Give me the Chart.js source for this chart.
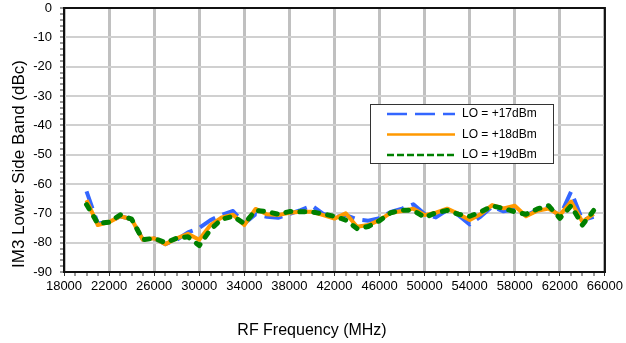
<!DOCTYPE html>
<html>
<head>
<meta charset="utf-8">
<script src="https://cdn.jsdelivr.net/npm/chart.js@4.4.1/dist/chart.umd.min.js"></script>
<style>
  html, body { margin: 0; padding: 0; background: #fff; }
  #wrap { width: 626px; height: 343px; }
</style>
</head>
<body>
<div id="wrap"><canvas id="im3Chart" width="626" height="343"></canvas></div>
<script>
// RF frequency points (MHz)
const freqs = [
    20000, 21000, 22000, 23000, 24000, 25000, 26000, 27000, 28000, 29000,
    30000, 31000, 32000, 33000, 34000, 35000, 36000, 37000, 38000, 39000,
    40000, 41000, 42000, 43000, 44000, 45000, 46000, 47000, 48000, 49000,
    50000, 51000, 52000, 53000, 54000, 55000, 56000, 57000, 58000, 59000,
    60000, 61000, 62000, 63000, 64000, 65000,
];

// IM3 lower side band (dBc) for each LO drive
const lo17 = [
    -62.5, -73.5, -73, -71, -72, -79, -78.5, -80.5, -79, -76.5,
    -75, -72.3, -70.5, -69.2, -73.5, -70.3, -71.2, -71.5, -70.2, -68.9,
    -67.4, -70.2, -71.3, -70.6, -72, -72.5, -71.7, -69.5, -68.4, -66.9,
    -70.2, -71.4, -68.9, -70.6, -73.8, -71, -67.7, -69.3, -68.6, -70.7,
    -68.9, -67.9, -71, -62.6, -72.3, -71.2,
];
const lo18 = [
    -65.5, -74, -73, -71, -72, -79, -78.5, -80.5, -78.5, -77,
    -79, -74, -71.4, -70.5, -74, -68.5, -70.3, -70.6, -69.8, -69.5,
    -69.5, -70.6, -71.8, -70, -74.6, -74, -72.3, -69.8, -69.2, -68.4,
    -70.6, -69.8, -68.4, -70.2, -72.3, -70.2, -67.2, -68.3, -67.4, -71,
    -69.1, -68.4, -70.6, -66, -72.9, -70.2,
];
const lo19 = [
    -67, -73.5, -73, -70.5, -72, -79, -78.5, -80, -78.5, -78,
    -81, -75.5, -72, -71, -73.5, -69, -69.4, -70.3, -69.4, -69.5,
    -69.5, -70.2, -71, -72.3, -75.2, -74.5, -72.5, -69.8, -68.9, -69,
    -71.4, -69.8, -69, -70.3, -71, -69.5, -67.5, -68.3, -69.5, -70.3,
    -68.5, -67.4, -71.7, -67.4, -74, -69,
];

const seriesNames = ["LO = +17dBm", "LO = +18dBm", "LO = +19dBm"];
const xTitle = "RF Frequency (MHz)";
const yTitle = "IM3 Lower Side Band (dBc)";

const FONT = '"Liberation Sans", Arial, sans-serif';

const toPoints = (vals) => vals.map((v, i) => ({ x: freqs[i], y: v }));

// legend samples are thinner than the plotted lines
const legendStyles = [
    { color: "#3366FF", dash: [20, 8], width: 2.5 },
    { color: "#FF9900", dash: [], width: 2.5 },
    { color: "#008000", dash: [7, 3], width: 2.5 },
];

const decor = {
    id: "decor",
    afterDraw(chart) {
        const { ctx, chartArea: a } = chart;
        ctx.save();

        // plot frame
        ctx.strokeStyle = "#111";
        ctx.lineWidth = 2;
        ctx.strokeRect(a.left, a.top, a.right - a.left, a.bottom - a.top);

        // axis titles
        ctx.fillStyle = "#000";
        ctx.textAlign = "center";
        ctx.textBaseline = "middle";
        ctx.font = "16px " + FONT;
        ctx.fillText(xTitle, 312, 331);
        ctx.save();
        ctx.font = "17px " + FONT;
        ctx.translate(19, 164);
        ctx.rotate(-Math.PI / 2);
        ctx.fillText(yTitle, 0, 0);
        ctx.restore();

        // legend box
        const bx = 370, by = 104, bw = 183, bh = 59;
        ctx.fillStyle = "#fff";
        ctx.fillRect(bx, by, bw, bh);
        ctx.strokeStyle = "#333";
        ctx.lineWidth = 1;
        ctx.strokeRect(bx + 0.5, by + 0.5, bw, bh);

        ctx.font = "12px " + FONT;
        ctx.textAlign = "left";
        seriesNames.forEach((name, i) => {
            const y = by + 10 + i * 20.5;
            const s = legendStyles[i];
            ctx.strokeStyle = s.color;
            ctx.lineWidth = s.width;
            ctx.setLineDash(s.dash);
            ctx.beginPath();
            ctx.moveTo(bx + 17, y);
            ctx.lineTo(bx + 85, y);
            ctx.stroke();
            ctx.setLineDash([]);
            ctx.fillStyle = "#000";
            ctx.fillText(name, bx + 92, y);
        });

        ctx.restore();
    },
};

document.addEventListener("DOMContentLoaded", function () {
    const ctx = document.getElementById("im3Chart");
    new Chart(ctx, {
        type: "line",
        data: {
            datasets: [
                {
                    label: seriesNames[0],
                    data: toPoints(lo17),
                    borderColor: "#3366FF",
                    borderWidth: 4,
                    borderDash: [18, 8],
                    order: 3,
                },
                {
                    label: seriesNames[1],
                    data: toPoints(lo18),
                    borderColor: "#FF9900",
                    borderWidth: 4,
                    order: 2,
                },
                {
                    label: seriesNames[2],
                    data: toPoints(lo19),
                    borderColor: "#008000",
                    borderWidth: 5,
                    borderDash: [5, 9],
                    borderCapStyle: "round",
                    order: 1,
                },
            ],
        },
        options: {
            responsive: false,
            animation: false,
            devicePixelRatio: 1,
            layout: { padding: { top: 8, right: 21, left: 0, bottom: 0 } },
            elements: {
                point: { radius: 0 },
                line: { tension: 0, borderJoinStyle: "round", fill: false },
            },
            plugins: {
                legend: { display: false },
                tooltip: { enabled: false },
            },
            scales: {
                x: {
                    type: "linear",
                    min: 18000,
                    max: 66000,
                    afterFit: (scale) => { scale.height = 71; },
                    border: { display: true, color: "#222", width: 2 },
                    grid: {
                        color: (c) => (c.tick && c.tick.value % 4000 === 2000 ? "#c0c0c0" : "rgba(0,0,0,0)"),
                        lineWidth: (c) => (c.tick && c.tick.value % 4000 === 2000 ? 3 : 0),
                        drawTicks: true,
                        tickLength: 4,
                        tickColor: "#333",
                        tickWidth: 1,
                    },
                    ticks: {
                        stepSize: 1000,
                        autoSkip: false,
                        maxRotation: 0,
                        padding: 3,
                        color: "#000",
                        font: { family: FONT, size: 13 },
                        callback: (v) => (v % 4000 === 2000 ? String(v) : ""),
                    },
                },
                y: {
                    min: -90,
                    max: 0,
                    afterFit: (scale) => {
                        scale.width = 64;
                        scale.paddingTop = 0;
                        scale.paddingBottom = 0;
                    },
                    border: { display: true, color: "#222", width: 2 },
                    grid: {
                        color: (c) => (c.tick && c.tick.value % 10 === 0 ? "#d0d0d0" : "rgba(0,0,0,0)"),
                        lineWidth: (c) => (c.tick && c.tick.value % 10 === 0 ? 2 : 0),
                        drawTicks: true,
                        tickLength: 4,
                        tickColor: "#333",
                        tickWidth: 1,
                    },
                    ticks: {
                        stepSize: 2,
                        autoSkip: false,
                        padding: 8,
                        color: "#000",
                        font: { family: FONT, size: 13 },
                        callback: (v) => (v % 10 === 0 ? String(v) : ""),
                    },
                },
            },
        },
        plugins: [decor],
    });
});
</script>
</body>
</html>
